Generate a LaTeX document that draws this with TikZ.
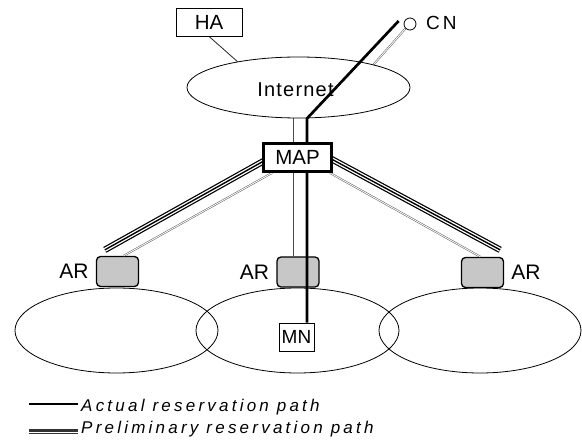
\documentclass[tikz,border=0pt]{standalone}
\usepackage{fontspec}
\setmainfont{Liberation Sans}
\newfontfamily\legfont[LetterSpace=19]{Liberation Sans}
\newfontfamily\spfont[LetterSpace=15]{Liberation Sans}
\newfontfamily\inetfont[LetterSpace=6]{Liberation Sans}
\usetikzlibrary{shapes.geometric}
\pgfdeclarelayer{bg}
\pgfdeclarelayer{lines}
\pgfsetlayers{bg,lines,main}
\begin{document}
\begin{tikzpicture}[x=1pt,y=-1pt,
  box/.style={draw, fill=white, inner sep=0pt, font=\fontsize{20.5}{20.5}\selectfont},
  arbox/.style={draw, line width=1.3pt, rounded corners=4pt, fill=black!22, minimum width=42pt, minimum height=30pt, inner sep=0pt},
  lbl/.style={inner sep=0pt, font=\fontsize{21}{21}\selectfont},
  area/.style={ellipse, draw, line width=0.8pt, inner sep=0pt},
  actual/.style={draw=black, line width=2.7pt},
  prelim/.style={draw=black, line width=6.5pt, postaction={draw=white, line width=4pt}, postaction={draw=black, line width=1.4pt}},
  prelimleg/.style={draw=black!80, line width=5pt, postaction={draw=white, line width=3pt}, postaction={draw=black!80, line width=1.1pt}},
  link/.style={draw=black!70, line width=0.45pt, double=white, double distance=0.9pt},
  thinlink/.style={draw=black!85, line width=0.8pt},
  leg/.style={inner sep=0pt, font=\legfont\itshape\fontsize{17}{17}\selectfont}
]
\useasboundingbox (0,0) rectangle (582,441);

% areas
\node[area, minimum width=223pt, minimum height=61pt] (Internet) at (298.5,87.5) {};
\node[lbl, font=\inetfont\fontsize{20}{20}\selectfont] (InternetT) at (295.5,90) {Internet};
\node[area, minimum width=203pt, minimum height=85pt] (Cl) at (116.5,330.5) {};
\node[area, minimum width=203pt, minimum height=85pt] (Cm) at (297.5,330.5) {};
\node[area, minimum width=202pt, minimum height=85pt] (Cr) at (480,330.5) {};

% access routers
\begin{pgfonlayer}{bg}
\node[arbox] (ARl) at (117.5,271.5) {};
\node[arbox] (ARm) at (298,272) {};
\node[arbox] (ARr) at (482.5,272.5) {};
\end{pgfonlayer}
\node[lbl, anchor=east] (ARlT) at ([xshift=-7pt]ARl.west) {AR};
\node[lbl, anchor=east] (ARmT) at ([xshift=-7pt]ARm.west) {AR};
\node[lbl, anchor=west] (ARrT) at ([xshift=7pt]ARr.east) {AR};

% other nodes
\node[box, line width=0.8pt, minimum width=66pt, minimum height=28pt] (HA) at (209,22) {HA};
\node[circle, draw, line width=0.8pt, minimum size=12pt, inner sep=0pt] (CN) at (410,24) {};
\node[lbl, anchor=west, font=\spfont\fontsize{19}{19}\selectfont] (CNT) at (426,22.5) {CN};
\node[box, line width=2.8pt, minimum width=68pt, minimum height=28pt] (MAP) at (297.5,157.5) {MAP};
\node[box, line width=0.8pt, minimum width=35pt, minimum height=28pt, font=\fontsize{19}{19}\selectfont] (MN) at (296.5,337) {MN};

% connectors
\begin{pgfonlayer}{lines}
\draw[thinlink] (HA.south) -- (Internet.157);
\draw[link] (CN.225) -- (Internet.17.6);
\coordinate (im) at ([xshift=-4.5pt]Internet.south);
\draw[link] (im) -- (im |- ARm.north);
\draw[link] ([xshift=10pt]MAP.south west) -- ([xshift=6pt]ARl.north);
\draw[link] ([xshift=-3pt]MAP.south east) -- ([xshift=-2pt]ARr.north);
\draw[prelim] ([xshift=4.4pt,yshift=-2pt]MAP.west) -- ([xshift=9pt,yshift=6pt]ARl.north west);
\draw[prelim] ([xshift=-4.3pt]MAP.east) -- ([xshift=-4pt,yshift=7pt]ARr.north east);
\coordinate (cnA) at ([xshift=-5pt,yshift=3pt]CN.west);
\coordinate (bend) at (307,118.5);
\draw[actual, line join=round] (cnA) -- (bend) -- (bend |- MN.north);
\end{pgfonlayer}

% legend
\coordinate (L1a) at (29,404);
\coordinate (L1b) at (78,404);
\coordinate (L2a) at (29,431);
\coordinate (L2b) at (78,431);
\draw[actual, line width=2.2pt] (L1a) -- (L1b);
\draw[prelimleg] (L2a) -- (L2b);
\node[leg, anchor=base west] (T1) at (81,411) {Actual reservation path};
\node[leg, anchor=base west] (T2) at (81,433.5) {Preliminary reservation path};
\end{tikzpicture}
\end{document}
